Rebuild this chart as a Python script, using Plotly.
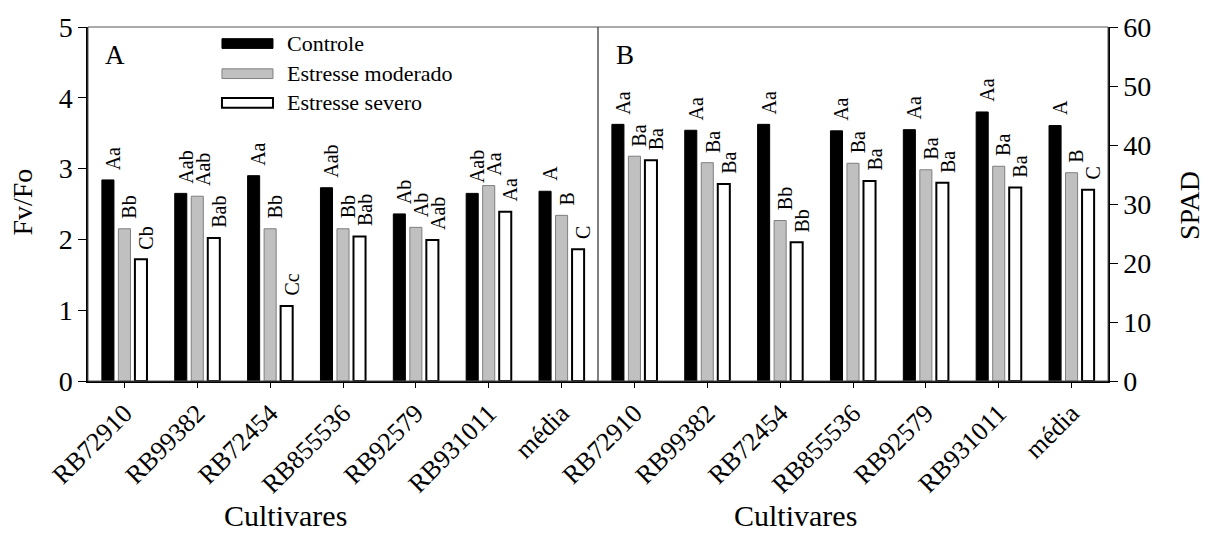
import plotly.graph_objects as go

cultivares = ["RB72910", "RB99382", "RB72454", "RB855536", "RB92579", "RB931011", "média"]
series_names = ["Controle", "Estresse moderado", "Estresse severo"]

# Panel A: Fv/Fo
fvfo_controle = [2.84, 2.65, 2.90, 2.73, 2.36, 2.65, 2.68]
fvfo_moderado = [2.15, 2.61, 2.15, 2.15, 2.17, 2.76, 2.34]
fvfo_severo = [1.72, 2.02, 1.06, 2.04, 1.99, 2.39, 1.86]
fvfo_lab_controle = ["Aa", "Aab", "Aa", "Aab", "Ab", "Aab", "A"]
fvfo_lab_moderado = ["Bb", "Aab", "Bb", "Bb", "Ab", "Aa", "B"]
fvfo_lab_severo = ["Cb", "Bab", "Cc", "Bab", "Aab", "Aa", "C"]

# Panel B: SPAD
spad_controle = [43.5, 42.5, 43.5, 42.4, 42.6, 45.6, 43.3]
spad_moderado = [38.1, 37.0, 27.2, 36.9, 35.8, 36.4, 35.3]
spad_severo = [37.4, 33.4, 23.5, 33.9, 33.6, 32.8, 32.4]
spad_lab_controle = ["Aa", "Aa", "Aa", "Aa", "Aa", "Aa", "A"]
spad_lab_moderado = ["Ba", "Ba", "Bb", "Ba", "Ba", "Ba", "B"]
spad_lab_severo = ["Ba", "Ba", "Bb", "Ba", "Ba", "Ba", "C"]

FONT = "Liberation Serif"
fill_colors = ["#000000", "#c0c0c0", "#ffffff"]
line_colors = ["#000000", "#7f7f7f", "#000000"]
line_widths = [1, 1, 2]

fig = go.Figure()

panels = [
    ("x", "y", [fvfo_controle, fvfo_moderado, fvfo_severo],
     [fvfo_lab_controle, fvfo_lab_moderado, fvfo_lab_severo]),
    ("x2", "y2", [spad_controle, spad_moderado, spad_severo],
     [spad_lab_controle, spad_lab_moderado, spad_lab_severo]),
]

annotations = []
for xa, ya, vals, labs in panels:
    for j, (name, v) in enumerate(zip(series_names, vals)):
        fig.add_trace(go.Bar(
            x=cultivares, y=v, name=name, xaxis=xa, yaxis=ya,
            marker=dict(color=fill_colors[j], line=dict(color=line_colors[j], width=line_widths[j])),
            showlegend=False,
        ))
        for c, val, t in zip(cultivares, v, labs[j]):
            annotations.append(dict(
                x=c, y=val, xref=xa, yref=ya, text=t, showarrow=False,
                textangle=-90, xanchor="center", yanchor="bottom",
                xshift=(j - 1) * 16.5 + 5, yshift=8,
                font=dict(family=FONT, size=20, color="black"),
            ))

# Legend (manual, wide swatches)
leg_y = [0.9533, 0.8681, 0.7857]
shapes = []
for j, name in enumerate(series_names):
    shapes.append(dict(
        type="rect", xref="x domain", yref="y domain",
        x0=0.2627, x1=0.3627, y0=leg_y[j] - 0.0137, y1=leg_y[j] + 0.0137,
        fillcolor=fill_colors[j], line=dict(color=line_colors[j], width=line_widths[j]),
    ))
    annotations.append(dict(
        x=0.3863, y=leg_y[j], xref="x domain", yref="y domain", text=name,
        showarrow=False, xanchor="left", yanchor="middle",
        font=dict(family=FONT, size=22, color="black"),
    ))

# Panel frames (thin gray)
for xr, yr in [("x domain", "y domain"), ("x2 domain", "y2 domain")]:
    shapes.append(dict(type="rect", xref=xr, yref=yr, x0=0, x1=1, y0=0, y1=1,
                       line=dict(color="#555555", width=1), layer="above"))

# Titles and panel labels
title_font = dict(family=FONT, size=28, color="black")
annotations += [
    dict(x=0.1936, y=-0.3805, xref="paper", yref="paper", text="Cultivares", showarrow=False,
         xanchor="center", yanchor="middle", font=dict(family=FONT, size=30, color="black")),
    dict(x=0.6936, y=-0.3805, xref="paper", yref="paper", text="Cultivares", showarrow=False,
         xanchor="center", yanchor="middle", font=dict(family=FONT, size=30, color="black")),
    dict(x=-0.0637, y=0.504, xref="paper", yref="paper", text="Fv/Fo", showarrow=False,
         textangle=-90, xanchor="center", yanchor="middle", font=title_font),
    dict(x=1.0804, y=0.4945, xref="paper", yref="paper", text="SPAD", showarrow=False,
         textangle=-90, xanchor="center", yanchor="middle", font=title_font),
    dict(x=0.0529, y=0.9203, xref="x domain", yref="y domain", text="A", showarrow=False,
         xanchor="center", yanchor="middle", font=dict(family=FONT, size=27, color="black")),
    dict(x=0.0526, y=0.9203, xref="x2 domain", yref="y2 domain", text="B", showarrow=False,
         xanchor="center", yanchor="middle", font=dict(family=FONT, size=27, color="black")),
]

tick_font = dict(family=FONT, size=28, color="black")
xtick_font = dict(family=FONT, size=26, color="black")
common_x = dict(type="category", categoryorder="array", categoryarray=cultivares,
                showline=True, linecolor="black", linewidth=1.5, ticks="outside",
                ticklen=5, tickwidth=1, tickcolor="black", tickangle=-45,
                tickfont=xtick_font, showgrid=False, zeroline=False, range=[-0.5, 6.5])
common_y = dict(showline=True, linecolor="black", linewidth=1.5, ticks="outside",
                ticklen=8, tickwidth=1, tickcolor="black", tickfont=tick_font,
                showgrid=False, zeroline=False)

fig.update_layout(
    width=1208, height=535,
    margin=dict(l=88, r=100, t=17, b=154),
    paper_bgcolor="white", plot_bgcolor="white",
    barmode="group", bargap=0.32, bargroupgap=0.27,
    xaxis=dict(domain=[0, 0.5], anchor="y", **common_x),
    xaxis2=dict(domain=[0.5, 1], anchor="y2", **common_x),
    yaxis=dict(domain=[0, 1], anchor="x", range=[0, 5], dtick=1, side="left", **common_y),
    yaxis2=dict(domain=[0, 1], anchor="x2", range=[0, 60], dtick=10, side="right", **common_y),
    annotations=annotations,
    shapes=shapes,
    showlegend=False,
    font=dict(family=FONT, color="black"),
)

fig.write_html("out.html")
